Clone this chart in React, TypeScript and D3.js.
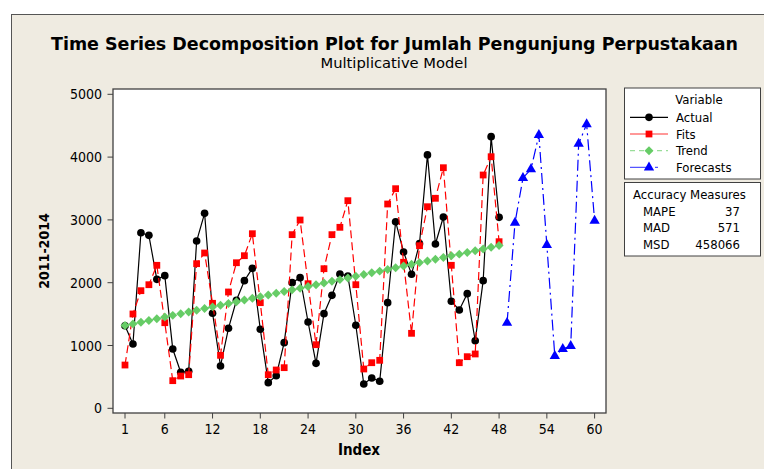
import React from 'react';
import * as d3 from 'd3';

// values
const actual = [
  1315, 1024, 2796, 2754, 2054, 2112, 944, 573, 589, 2664, 3105, 1513,
  674, 1274, 1720, 2032, 2229, 1258, 408, 519, 1045, 2000, 2080, 1374,
  716, 1507, 1799, 2138, 2107, 1322, 387, 482, 430, 1682, 2971, 2489,
  2134, 2621, 4035, 2616, 3046, 1704, 1565, 1825, 1076, 2032, 4325, 3041,
];
const fits = [
  689, 1502, 1873, 1968, 2277, 1363, 440, 514, 535, 2303, 2473, 1672,
  844, 1852, 2318, 2430, 2780, 1682, 535, 610, 647, 2765, 2998, 1984,
  1013, 2223, 2765, 2882, 3306, 1968, 626, 726, 764, 3253, 3497, 2325,
  1194, 2589, 3210, 3344, 3831, 2277, 726, 822, 865, 3715, 4006, 2653,
];
const trend = [
  1317, 1344, 1371, 1398, 1425, 1453, 1480, 1507, 1534, 1561, 1588, 1615,
  1642, 1669, 1696, 1724, 1751, 1778, 1805, 1832, 1859, 1886, 1913, 1940,
  1967, 1995, 2022, 2049, 2076, 2103, 2130, 2157, 2184, 2211, 2238, 2266,
  2293, 2320, 2347, 2374, 2401, 2428, 2455, 2482, 2509, 2537, 2564, 2591,
];
const forecasts = [1360, 2956, 3667, 3806, 4352, 2600, 833, 944, 992, 4213, 4522, 2987];
const forecastStart = 49;

const xTicks = [1, 6, 12, 18, 24, 30, 36, 42, 48, 54, 60];
const yTicks = [0, 1000, 2000, 3000, 4000, 5000];

const accuracy = [
  { name: 'MAPE', value: '37' },
  { name: 'MAD', value: '571' },
  { name: 'MSD', value: '458066' },
];

const FONT = "'DejaVu Sans Condensed', 'DejaVu Sans', sans-serif";
const BG = '#efebe1';

const plot = { left: 113, right: 606, top: 89, bottom: 413 };

const x = d3.scaleLinear().domain([1, 60]).range([125, 594.6]);
const y = d3.scaleLinear().domain([0, 5000]).range([408.3, 94.3]);

type Pt = [number, number];
const toPts = (vals: number[], start: number): Pt[] => vals.map((v, i) => [start + i, v]);

const line = d3.line<Pt>().x(d => x(d[0])).y(d => y(d[1]));

const circle = d3.symbol().type(d3.symbolCircle).size(46)();
const square = d3.symbol().type(d3.symbolSquare).size(46)();
const diamond = d3.symbol().type(d3.symbolSquare).size(40)();
const triangle = d3.symbol().type(d3.symbolTriangle).size(46)();

const series = [
  { label: 'Actual', pts: toPts(actual, 1), color: '#000000', dash: undefined, marker: circle, rot: 0 },
  { label: 'Fits', pts: toPts(fits, 1), color: '#ff0000', dash: '8,4', marker: square, rot: 0 },
  { label: 'Trend', pts: toPts(trend, 1), color: '#66cc66', dash: '5,4', marker: diamond, rot: 45 },
  { label: 'Forecasts', pts: toPts(forecasts, forecastStart), color: '#0000ff', dash: '11,4,2,4', marker: triangle, rot: 0 },
];

const legendLine: Record<string, { color: string; dash?: string }> = {
  Actual: { color: '#000000' },
  Fits: { color: '#ff3333' },
  Trend: { color: '#99dd99', dash: '5,4' },
  Forecasts: { color: '#5555ff', dash: '20,5,3,20' },
};

export default function App() {
  const legendX = 624.5;
  return (
    <svg width={764} height={469} style={{ position: 'absolute', left: 0, top: 0, fontFamily: FONT }}>
      <rect x={0} y={0} width={764} height={469} fill="#ffffff" />
      <rect x={11.5} y={14.5} width={800} height={500} fill={BG} stroke="#555" strokeWidth={1} />

      <text x={394.5} y={50} textAnchor="middle" fontSize={18} fontWeight="bold" textLength={687} lengthAdjust="spacingAndGlyphs">
        Time Series Decomposition Plot for Jumlah Pengunjung Perpustakaan
      </text>
      <text x={394} y={68} textAnchor="middle" fontSize={14} textLength={147} lengthAdjust="spacingAndGlyphs">
        Multiplicative Model
      </text>

      <rect x={plot.left} y={plot.top} width={plot.right - plot.left} height={plot.bottom - plot.top} fill="#ffffff" stroke="#404040" strokeWidth={1.3} />

      {/* y axis */}
      {yTicks.map(t => (
        <g key={t}>
          <line x1={107.5} x2={plot.left} y1={y(t)} y2={y(t)} stroke="#404040" />
          <text x={102} y={y(t) + 5} textAnchor="end" fontSize={14}>{t}</text>
        </g>
      ))}
      <text transform="translate(49,251) rotate(-90)" textAnchor="middle" fontSize={14} fontWeight="bold">2011-2014</text>

      {/* x axis */}
      {xTicks.map(t => (
        <g key={t}>
          <line x1={x(t)} x2={x(t)} y1={plot.bottom} y2={plot.bottom + 5.5} stroke="#404040" />
          <text x={x(t)} y={434} textAnchor="middle" fontSize={14}>{t}</text>
        </g>
      ))}
      <text x={359} y={455} textAnchor="middle" fontSize={15} fontWeight="bold">Index</text>

      {/* series */}
      {series.map(s => (
        <g key={s.label}>
          <path d={line(s.pts) || ''} fill="none" stroke={s.color} strokeWidth={1.2} strokeDasharray={s.dash} />
          {s.pts.map(p => (
            <path key={p[0]} d={s.marker || ''} transform={`translate(${x(p[0])},${y(p[1])}) rotate(${s.rot})`} fill={s.color} />
          ))}
        </g>
      ))}

      {/* legend */}
      <rect x={legendX} y={88} width={136} height={91} fill="#ffffff" stroke="#404040" />
      <text x={699} y={104} textAnchor="middle" fontSize={13}>Variable</text>
      {series.map((s, i) => {
        const cy = 117.3 + i * 16.7;
        const ls = legendLine[s.label];
        return (
          <g key={s.label}>
            <line x1={630} x2={668} y1={cy} y2={cy} stroke={ls.color} strokeWidth={1.2} strokeDasharray={ls.dash} />
            <path d={s.marker || ''} transform={`translate(649,${cy}) rotate(${s.rot})`} fill={s.color} />
            <text x={676} y={cy + 4.5} fontSize={13}>{s.label}</text>
          </g>
        );
      })}

      <rect x={legendX} y={182.5} width={136} height={73.5} fill="#ffffff" stroke="#404040" />
      <text x={633} y={198.5} fontSize={13}>Accuracy Measures</text>
      {accuracy.map((a, i) => (
        <g key={a.name}>
          <text x={643} y={215.8 + i * 16.5} fontSize={13}>{a.name}</text>
          <text x={740} y={215.8 + i * 16.5} fontSize={13} textAnchor="end">{a.value}</text>
        </g>
      ))}
    </svg>
  );
}
